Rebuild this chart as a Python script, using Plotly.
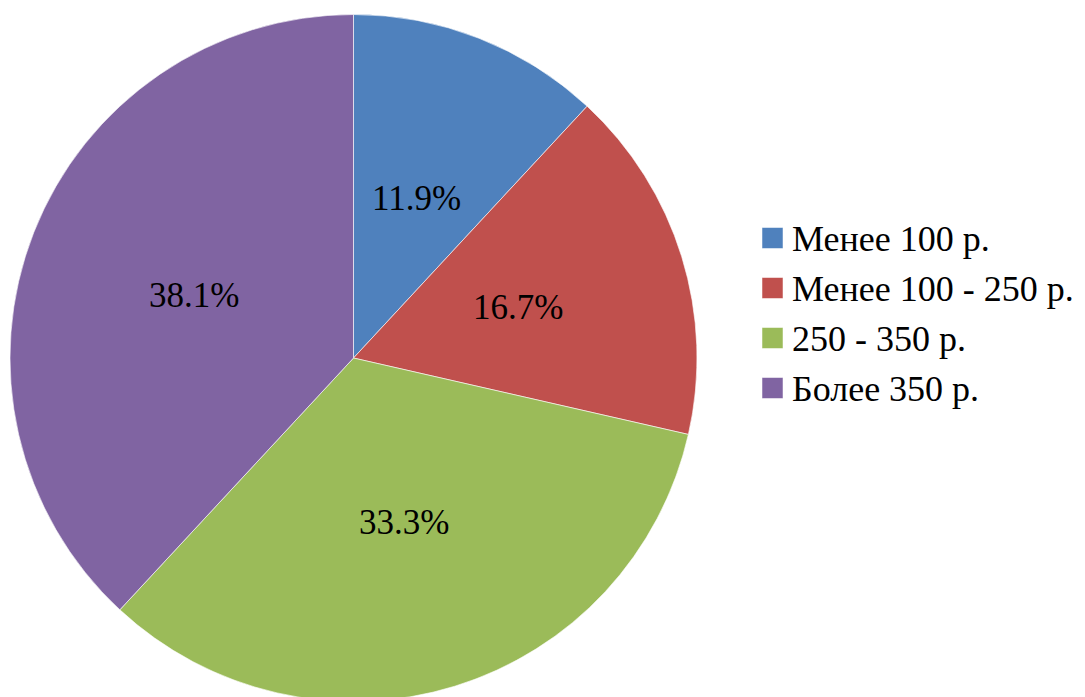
import math
import plotly.graph_objects as go

# ---- data ----
categories = ["Менее 100 р.", "Менее 100 - 250 р.", "250 - 350 р.", "Более 350 р."]
counts = [5, 7, 14, 16]
colors = ["#4F81BD", "#C0504D", "#9BBB59", "#8064A2"]

# ---- layout constants (figure pixels; page body adds an 8px offset) ----
W, H = 1085, 705
OFF = 8
CX, CY, R = 353.5 - OFF, 358 - OFF, 343.5
FONT = "Liberation Serif"
FS_LABEL = 35
FS_LEGEND = 36

fig = go.Figure()
fig.add_trace(go.Pie(
    labels=categories,
    values=counts,
    marker=dict(colors=colors, line=dict(color="rgba(255,255,255,0.6)", width=1)),
    sort=False,
    direction="clockwise",
    rotation=0,
    textinfo="none",
    hoverinfo="label+percent",
    showlegend=False,
    domain=dict(x=[(CX - R) / W, (CX + R) / W],
                y=[1 - (CY + R) / H, 1 - (CY - R) / H]),
))

# percentage labels placed on slice bisectors at half radius
total = sum(counts)
annotations = []
cum = 0
for v in counts:
    mid = (cum + v / 2) / total * 2 * math.pi
    cum += v
    px = CX + 0.5 * R * math.sin(mid)
    py = CY - 0.5 * R * math.cos(mid)
    annotations.append(dict(
        x=px / W, y=1 - py / H, xref="paper", yref="paper",
        text=f"{v / total * 100:.1f}%", showarrow=False,
        xanchor="center", yanchor="middle",
        font=dict(family=FONT, size=FS_LABEL, color="black"),
    ))

# custom legend
LEG_X0, LEG_Y0, LEG_DY, SQ = 762 - OFF, 238 - OFF, 50, 21
shapes = []
for i, (lab, col) in enumerate(zip(categories, colors)):
    yc = LEG_Y0 + i * LEG_DY
    shapes.append(dict(
        type="rect", xref="paper", yref="paper",
        x0=LEG_X0 / W, x1=(LEG_X0 + SQ) / W,
        y0=1 - (yc + SQ / 2) / H, y1=1 - (yc - SQ / 2) / H,
        fillcolor=col, line=dict(color="rgba(255,255,255,0.5)", width=1),
    ))
    annotations.append(dict(
        x=(LEG_X0 + SQ + 7) / W, y=1 - (yc + 1) / H, xref="paper", yref="paper",
        text=lab, showarrow=False, xanchor="left", yanchor="middle",
        font=dict(family=FONT, size=FS_LEGEND, color="black"),
    ))

fig.update_layout(
    width=W, height=H,
    margin=dict(l=0, r=0, t=0, b=0),
    paper_bgcolor="white", plot_bgcolor="white",
    annotations=annotations, shapes=shapes,
)

fig.write_html("out.html")
